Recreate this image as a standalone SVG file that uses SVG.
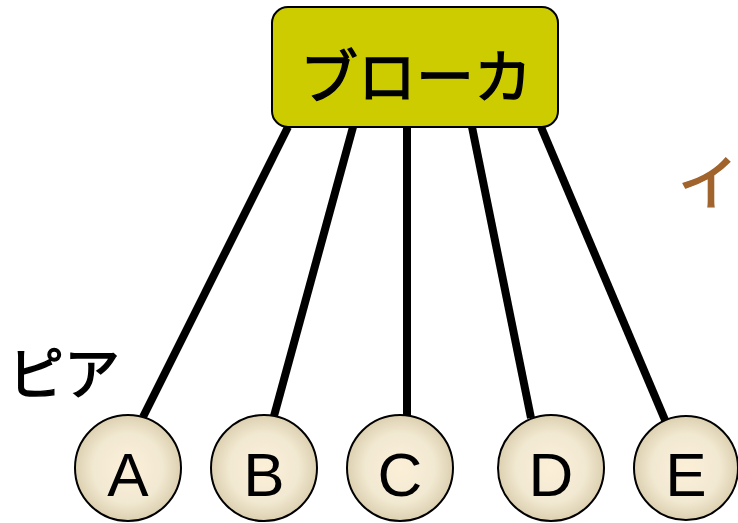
<svg xmlns="http://www.w3.org/2000/svg" width="738" height="523" viewBox="0 0 738 523">
<defs>
<radialGradient id="g" cx="0.5" cy="0.5" r="0.5">
<stop offset="0" stop-color="#fcefd8"/>
<stop offset="0.65" stop-color="#f2e9d2"/>
<stop offset="1" stop-color="#dcd0b0"/>
</radialGradient>
<style>
.ln{stroke:#000;stroke-width:8;fill:none}
.c{fill:url(#g);stroke:#000;stroke-width:2}
.lt{font-family:"Liberation Sans",Arial,sans-serif;font-size:62px;fill:#000;text-anchor:middle}
.jp{font-family:"Noto Sans CJK JP","Noto Sans CJK SC",sans-serif;fill:#000;stroke:#000;stroke-width:1.4}
</style>
</defs>
<g id="connectors">
<line class="ln" x1="288" y1="127" x2="143" y2="417"/>
<line class="ln" x1="353" y1="127" x2="274" y2="416"/>
<line class="ln" x1="407" y1="127" x2="407" y2="415"/>
<line class="ln" x1="472" y1="127" x2="531" y2="418"/>
<line class="ln" x1="541" y1="127" x2="665" y2="420"/>
</g>
<g id="broker">
<rect x="272" y="7" width="286" height="120" rx="16" fill="#cccc00" stroke="#000" stroke-width="2"/>
<text class="jp" x="416" y="98" font-size="58" text-anchor="middle">ブローカ</text>
</g>
<g id="nodeA"><circle class="c" cx="128" cy="468" r="53"/><text class="lt" x="128" y="496">A</text></g>
<g id="nodeB"><circle class="c" cx="264" cy="468" r="53"/><text class="lt" x="264" y="496">B</text></g>
<g id="nodeC"><circle class="c" cx="400" cy="468" r="53"/><text class="lt" x="400" y="496">C</text></g>
<g id="nodeD"><circle class="c" cx="551" cy="468" r="53"/><text class="lt" x="551" y="496">D</text></g>
<g id="nodeE"><circle class="c" cx="686" cy="468" r="52"/><text class="lt" x="686" y="496">E</text></g>
<text id="peer" class="jp" x="8" y="394" font-size="56">ピア</text>
<text id="i" class="jp" x="738" y="205" font-size="60" text-anchor="end" style="fill:#a0642c;stroke:#a0642c">イ</text>
</svg>
